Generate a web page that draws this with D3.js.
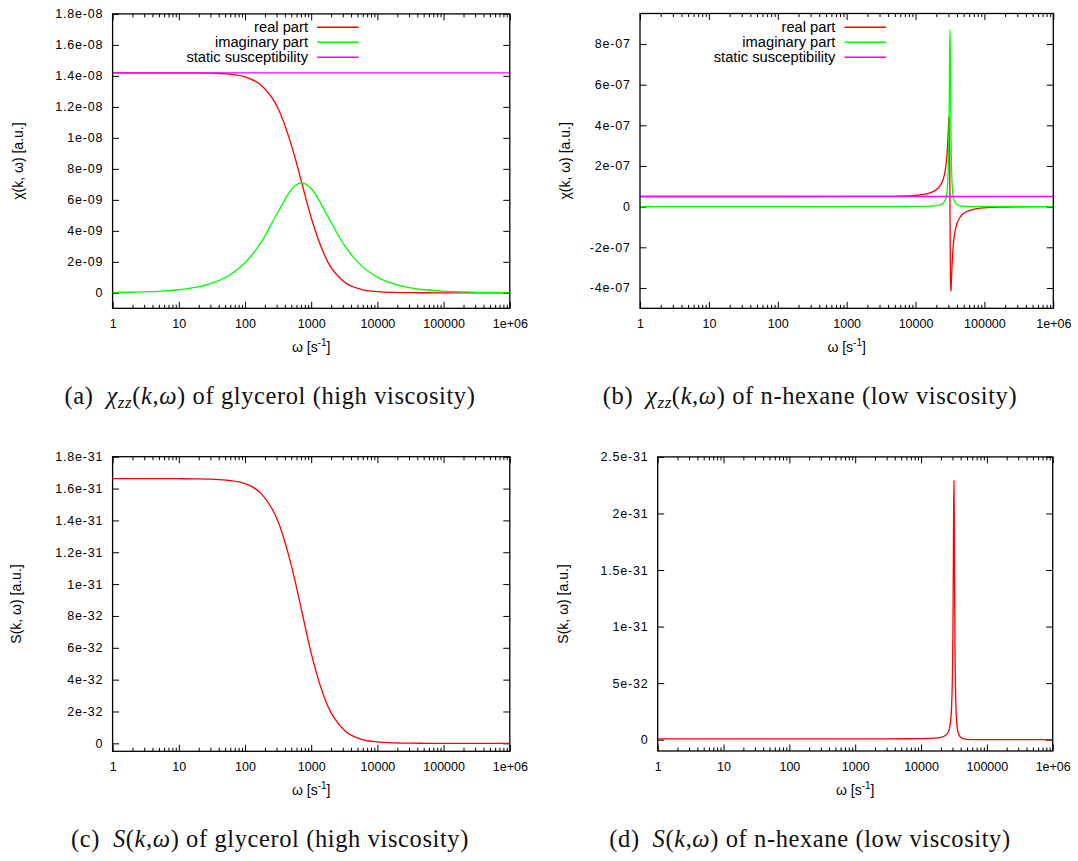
<!DOCTYPE html>
<html><head><meta charset="utf-8">
<script src="https://cdn.jsdelivr.net/npm/d3@7"></script>
<style>body{margin:0;background:#fff}</style>
</head><body>
<svg id="chart" width="1078" height="861"></svg>
<script>
// ---------------- data ----------------
const omegaGly = [1, 1.778, 3.162, 5.623, 10, 17.78, 31.62, 56.23, 100, 177.8, 316.2, 562.3, 719.5, 1000, 1778, 3162, 5623, 10000, 17783, 31623, 56234, 100000, 177828, 316228, 562341, 1000000];
const realGly = [1.42e-8, 1.42e-8, 1.42e-8, 1.4199e-8, 1.4197e-8, 1.4191e-8, 1.4173e-8, 1.4114e-8, 1.3931e-8, 1.3382e-8, 1.19e-8, 8.815e-9, 7.1e-9, 4.843e-9, 1.997e-9, 6.988e-10, 2.287e-10, 7.31e-11, 2.32e-11, 7.3e-12, 2.3e-12, 7e-13, 2e-13, 7e-14, 2e-14, 7e-15];
const imagGly = [1.974e-11, 3.51e-11, 6.24e-11, 1.11e-10, 1.974e-10, 3.508e-10, 6.229e-10, 1.1031e-9, 1.9364e-9, 3.308e-9, 5.231e-9, 6.89e-9, 7.1e-9, 6.732e-9, 4.937e-9, 3.072e-9, 1.788e-9, 1.016e-9, 5.736e-10, 3.229e-10, 1.816e-10, 1.021e-10, 5.74e-11, 3.23e-11, 1.82e-11, 1.02e-11];
const staticGly = [1.42e-8, 1.42e-8];
const sGly = [1.662e-31, 1.662e-31, 1.662e-31, 1.662e-31, 1.6617e-31, 1.661e-31, 1.6588e-31, 1.6519e-31, 1.6305e-31, 1.5663e-31, 1.3929e-31, 1.0317e-31, 8.31e-32, 5.668e-32, 2.338e-32, 8.18e-33, 2.677e-33, 8.56e-34, 2.72e-34, 8.6e-35, 2.7e-35, 8.6e-36, 2.7e-36, 8.6e-37, 2.7e-37, 8.6e-38];

const omegaHex = [1, 10, 100, 1000, 3162, 6310, 10000, 12589, 15849, 19953, 22387, 25119, 26915, 28184, 28840, 29512, 29854, 30200, 30549, 30903, 31261, 31623, 31989, 32359, 32734, 33113, 33497, 33884, 34674, 35481, 37154, 39811, 44668, 50119, 63096, 79433, 100000, 158489, 316228, 562341, 1000000];
const realHex = [5e-8, 5e-8, 5e-8, 5.005e-8, 5.05e-8, 5.207e-8, 5.553e-8, 5.937e-8, 6.667e-8, 8.277e-8, 9.958e-8, 1.3345e-7, 1.759e-7, 2.289e-7, 2.709e-7, 3.304e-7, 3.681e-7, 4.091e-7, 4.428e-7, 4.345e-7, 3.038e-7, 0, -2.969e-7, -4.15e-7, -4.132e-7, -3.731e-7, -3.281e-7, -2.878e-7, -2.253e-7, -1.818e-7, -1.274e-7, -8.42e-8, -4.991e-8, -3.295e-8, -1.675e-8, -9.41e-9, -5.553e-9, -2.073e-9, -5.05e-10, -1.587e-10, -5.005e-11];
const imagHex = [9e-14, 9e-13, 9.1e-12, 9.1e-11, 2.93e-10, 6.22e-10, 1.121e-9, 1.614e-9, 2.565e-9, 4.987e-9, 8.122e-9, 1.651e-8, 3.123e-8, 5.701e-8, 8.439e-8, 1.3732e-7, 1.8365e-7, 2.5518e-7, 3.683e-7, 5.421e-7, 7.583e-7, 8.7e-7, 7.412e-7, 5.178e-7, 3.437e-7, 2.327e-7, 1.637e-7, 1.196e-7, 7.02e-8, 4.528e-8, 2.262e-8, 1.042e-8, 4.07e-9, 1.985e-9, 6.44e-10, 2.56e-10, 1.12e-10, 2.5e-11, 2.9e-12, 9e-13, 2.9e-13];
const staticHex = [5e-8, 5e-8];
const sHex = [7.56e-34, 7.56e-34, 7.56e-34, 7.57e-34, 7.71e-34, 8.2e-34, 9.33e-34, 1.067e-33, 1.346e-33, 2.079e-33, 3.018e-33, 5.467e-33, 9.652e-33, 1.683e-32, 2.435e-32, 3.871e-32, 5.118e-32, 7.03e-32, 1.003e-31, 1.459e-31, 2.018e-31, 2.29e-31, 1.928e-31, 1.331e-31, 8.736e-32, 5.847e-32, 4.066e-32, 2.937e-32, 1.684e-32, 1.062e-32, 5.065e-33, 2.177e-33, 7.58e-34, 3.3e-34, 8.5e-35, 2.7e-35, 9e-36, 1e-36, 1e-37, 3e-38, 1e-38];
const staticEnds = [1, 1000000];

const xTickValues = [1, 10, 100, 1000, 10000, 100000, 1000000];
const xTickLabels = ["1", "10", "100", "1000", "10000", "100000", "1e+06"];
const xMinorMantissas = [2, 3, 4, 5, 6, 7, 8, 9];

const yTicksA = [0, 2e-9, 4e-9, 6e-9, 8e-9, 1e-8, 1.2e-8, 1.4e-8, 1.6e-8, 1.8e-8];
const yLabelsA = ["0", "2e-09", "4e-09", "6e-09", "8e-09", "1e-08", "1.2e-08", "1.4e-08", "1.6e-08", "1.8e-08"];
const yTicksB = [-4e-7, -2e-7, 0, 2e-7, 4e-7, 6e-7, 8e-7];
const yLabelsB = ["-4e-07", "-2e-07", "0", "2e-07", "4e-07", "6e-07", "8e-07"];
const yTicksC = [0, 2e-32, 4e-32, 6e-32, 8e-32, 1e-31, 1.2e-31, 1.4e-31, 1.6e-31, 1.8e-31];
const yLabelsC = ["0", "2e-32", "4e-32", "6e-32", "8e-32", "1e-31", "1.2e-31", "1.4e-31", "1.6e-31", "1.8e-31"];
const yTicksD = [0, 5e-32, 1e-31, 1.5e-31, 2e-31, 2.5e-31];
const yLabelsD = ["0", "5e-32", "1e-31", "1.5e-31", "2e-31", "2.5e-31"];

const legendLabels = ["real part", "imaginary part", "static susceptibility"];
const seriesColors = ["#ff0000", "#00ff00", "#ff00ff"];

// ---------------- layout ----------------
const SANS = "'Liberation Sans', Arial, Helvetica, sans-serif";
const SERIF = "'Liberation Serif', 'Times New Roman', serif";
const TICK_FS = 12.5, TITLE_FS = 14, LEGEND_FS = 14.7, CAP_FS = 24.5;

const panels = [
  { id: "a", left: 112.6, right: 509.8, top: 13.9, bottom: 308.3, yDomain: [-1e-9, 1.8e-8],
    yTicks: yTicksA, yLabels: yLabelsA, yTitle: "χ(k, ω) [a.u.]", yTitleX: 18,
    series: [[omegaGly, realGly, 0], [omegaGly, imagGly, 1], [staticEnds, staticGly, 2]], legend: true,
    cap: { cx: 270, y: 404, tag: "(a)", fn: "χ", sub: "zz", rest: " of glycerol (high viscosity)" } },
  { id: "b", left: 640, right: 1053.3, top: 13.5, bottom: 308.3, yDomain: [-5e-7, 9.5e-7],
    yTicks: yTicksB, yLabels: yLabelsB, yTitle: "χ(k, ω) [a.u.]", yTitleX: 565,
    series: [[omegaHex, realHex, 0], [omegaHex, imagHex, 1], [staticEnds, staticHex, 2]], legend: true,
    cap: { cx: 810, y: 404, tag: "(b)", fn: "χ", sub: "zz", rest: " of n-hexane (low viscosity)" } },
  { id: "c", left: 112.6, right: 509.8, top: 456.7, bottom: 751.3, yDomain: [-5e-33, 1.8e-31],
    yTicks: yTicksC, yLabels: yLabelsC, yTitle: "S(k, ω) [a.u.]", yTitleX: 16,
    series: [[omegaGly, sGly, 0]], legend: false,
    cap: { cx: 270, y: 847, tag: "(c)", fn: "S", sub: "", rest: " of glycerol (high viscosity)" } },
  { id: "d", left: 657.7, right: 1052.7, top: 456.9, bottom: 751, yDomain: [-1e-32, 2.5e-31],
    yTicks: yTicksD, yLabels: yLabelsD, yTitle: "S(k, ω) [a.u.]", yTitleX: 563,
    series: [[omegaHex, sHex, 0]], legend: false,
    cap: { cx: 810, y: 847, tag: "(d)", fn: "S", sub: "", rest: " of n-hexane (low viscosity)" } }
];

const svg = d3.select("#chart");
const defs = svg.append("defs");
const MAJ = 6.5, MIN = 3.5;

const minorTicks = [];
for (let e = 0; e < 6; e++) xMinorMantissas.forEach(m => minorTicks.push(m * Math.pow(10, e)));

function styleAxis(g) {
  g.select(".domain").remove();
  g.attr("font-family", SANS).attr("font-size", TICK_FS);
  g.selectAll("line").attr("stroke", "#000").attr("stroke-width", 1);
  g.selectAll("text").attr("fill", "#000");
}

panels.forEach(p => {
  const x = d3.scaleLog().domain([1, 1e6]).range([p.left, p.right]);
  const y = d3.scaleLinear().domain(p.yDomain).range([p.bottom, p.top]);
  const g = svg.append("g").attr("class", "panel-" + p.id);

  defs.append("clipPath").attr("id", "clip-" + p.id).append("rect")
    .attr("x", p.left).attr("y", p.top).attr("width", p.right - p.left).attr("height", p.bottom - p.top);

  // axes
  g.append("g").attr("transform", `translate(0,${p.bottom})`)
    .call(d3.axisBottom(x).tickValues(xTickValues).tickFormat((d, i) => xTickLabels[i]).tickSize(-MAJ).tickPadding(11))
    .call(styleAxis);
  g.append("g").attr("transform", `translate(0,${p.bottom})`)
    .call(d3.axisBottom(x).tickValues(minorTicks).tickFormat("").tickSize(-MIN)).call(styleAxis);
  g.append("g").attr("transform", `translate(0,${p.top})`)
    .call(d3.axisTop(x).tickValues(xTickValues).tickFormat("").tickSize(-MAJ)).call(styleAxis);
  g.append("g").attr("transform", `translate(0,${p.top})`)
    .call(d3.axisTop(x).tickValues(minorTicks).tickFormat("").tickSize(-MIN)).call(styleAxis);
  g.append("g").attr("transform", `translate(${p.left},0)`)
    .call(d3.axisLeft(y).tickValues(p.yTicks).tickFormat((d, i) => p.yLabels[i]).tickSize(-MAJ).tickPadding(9.3))
    .call(styleAxis)
    .call(a => a.selectAll("text").attr("letter-spacing", 0.8));
  g.append("g").attr("transform", `translate(${p.right},0)`)
    .call(d3.axisRight(y).tickValues(p.yTicks).tickFormat("").tickSize(-MAJ)).call(styleAxis);

  // curves
  const line = d3.line().x(d => x(d[0])).y(d => y(d[1])).curve(d3.curveMonotoneX);
  const cg = g.append("g").attr("clip-path", `url(#clip-${p.id})`);
  p.series.forEach(([xs, ys, ci]) => {
    const pts = xs.map((w, i) => [w, ys[i]]);
    cg.append("path").attr("d", line(pts)).attr("fill", "none")
      .attr("stroke", seriesColors[ci]).attr("stroke-width", 1.3).attr("stroke-linejoin", "round");
  });

  // frame
  g.append("rect").attr("x", p.left).attr("y", p.top).attr("width", p.right - p.left).attr("height", p.bottom - p.top)
    .attr("fill", "none").attr("stroke", "#000").attr("stroke-width", 1.3);

  // legend
  if (p.legend) {
    legendLabels.forEach((lab, i) => {
      const ly = 27.3 + 15 * i;
      g.append("text").attr("x", p.left + 195.4).attr("y", ly + 4.7).attr("text-anchor", "end")
        .attr("font-family", SANS).attr("font-size", LEGEND_FS).attr("fill", "#000").text(lab);
      g.append("line").attr("x1", p.left + 204.5).attr("x2", p.left + 246).attr("y1", ly).attr("y2", ly)
        .attr("stroke", seriesColors[i]).attr("stroke-width", 1.5);
    });
  }

  // axis titles
  const xt = g.append("text").attr("x", (p.left + p.right) / 2).attr("y", p.bottom + 44)
    .attr("text-anchor", "middle").attr("font-family", SANS).attr("font-size", TITLE_FS).attr("fill", "#000");
  xt.append("tspan").text("ω [s");
  xt.append("tspan").attr("font-size", 10).attr("dy", -6).text("-1");
  xt.append("tspan").attr("dy", 6).text("]");

  const cy = (p.top + p.bottom) / 2;
  g.append("text").attr("transform", `translate(${p.yTitleX},${cy}) rotate(-90)`)
    .attr("text-anchor", "middle").attr("dy", "0.35em")
    .attr("font-family", SANS).attr("font-size", TITLE_FS).attr("fill", "#000")
    .text(p.yTitle);

  // caption
  const c = p.cap;
  const ct = svg.append("text").attr("x", c.cx).attr("y", c.y).attr("text-anchor", "middle")
    .attr("font-family", SERIF).attr("font-size", CAP_FS).attr("fill", "#111").attr("letter-spacing", 0.6);
  ct.append("tspan").text(c.tag + "\u2002");
  ct.append("tspan").attr("font-style", "italic").text(c.fn);
  if (c.sub) {
    ct.append("tspan").attr("font-style", "italic").attr("font-size", 17).attr("dy", 4).text(c.sub);
    ct.append("tspan").attr("dy", -4).text("(");
  } else {
    ct.append("tspan").text("(");
  }
  ct.append("tspan").attr("font-style", "italic").text("k");
  ct.append("tspan").text(",");
  ct.append("tspan").attr("font-style", "italic").text("ω");
  ct.append("tspan").text(")");
  ct.append("tspan").text(c.rest);
});
</script>
</body></html>
